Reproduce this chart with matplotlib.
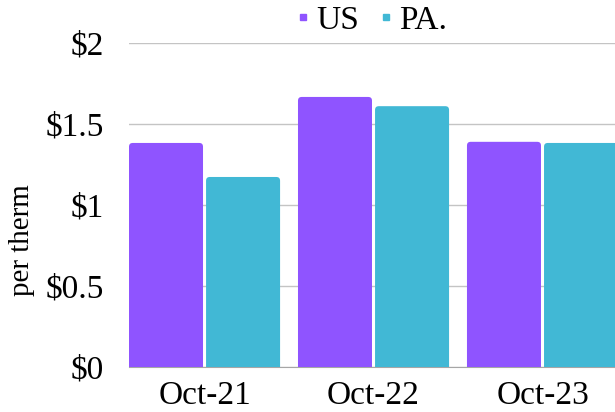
import numpy as np
import matplotlib.pyplot as plt
from matplotlib.lines import Line2D
from matplotlib.patches import FancyBboxPatch

categories = ["Oct-21", "Oct-22", "Oct-23"]
us_values = [1.383, 1.667, 1.39]
pa_values = [1.173, 1.61, 1.383]
tick_vals = [0, 0.5, 1, 1.5, 2]
tick_labels = ["$0", "$0.5", "$1", "$1.5", "$2"]
series_names = ["US", "PA."]
colors = ["#8F54FF", "#41B8D5"]

plt.rcParams['font.family'] = ['Liberation Serif', 'DejaVu Serif']

fig = plt.figure(figsize=(6.15, 4.12), dpi=100)
ax = fig.add_axes([129/615, 45/412, 486/615, 324/412])

x = np.arange(len(categories))
w = 0.438
off = 0.228
bars = [ax.bar(x - off, us_values, w, color=colors[0], zorder=3),
        ax.bar(x + off, pa_values, w, color=colors[1], zorder=3)]

# swap plain rectangles for ones with slightly rounded tops
for cont in bars:
    for r in cont:
        r.set_visible(False)
        ax.add_patch(FancyBboxPatch((r.get_x(), -0.05), r.get_width(),
                                    r.get_height() + 0.05,
                                    boxstyle="round,pad=0,rounding_size=0.022",
                                    mutation_aspect=169/162,
                                    facecolor=r.get_facecolor(),
                                    edgecolor="none", zorder=3))

ax.set_xlim(-0.447, 2.429)
ax.set_ylim(0, 2)
ax.set_yticks(tick_vals)
ax.set_yticklabels(tick_labels, fontsize=24)
ax.set_xticks(x)
ax.set_xticklabels(categories, fontsize=24)
ax.tick_params(length=0)
ax.tick_params(axis='x', pad=10)
ax.tick_params(axis='y', pad=18)
ax.grid(axis='y', color="#c4c4c4", linewidth=1, zorder=0)
for s in ["left", "right", "top"]:
    ax.spines[s].set_visible(False)
ax.spines["bottom"].set_color("#a6a6a6")
ax.spines["bottom"].set_zorder(1)

fig.text(22/615, 1 - 240/412, "per therm", rotation=90, fontsize=21,
         ha="center", va="center")

handles = [Line2D([], [], linestyle="none", marker="s", markersize=4.5,
                  color=c) for c in colors]
ax.legend(handles, series_names, loc="center", bbox_to_anchor=(0.499, 1.07),
          ncol=2, frameon=False, fontsize=24, handlelength=0.4,
          handletextpad=0.2, columnspacing=0.6, borderpad=0)

fig.savefig("out.png", dpi=100)
